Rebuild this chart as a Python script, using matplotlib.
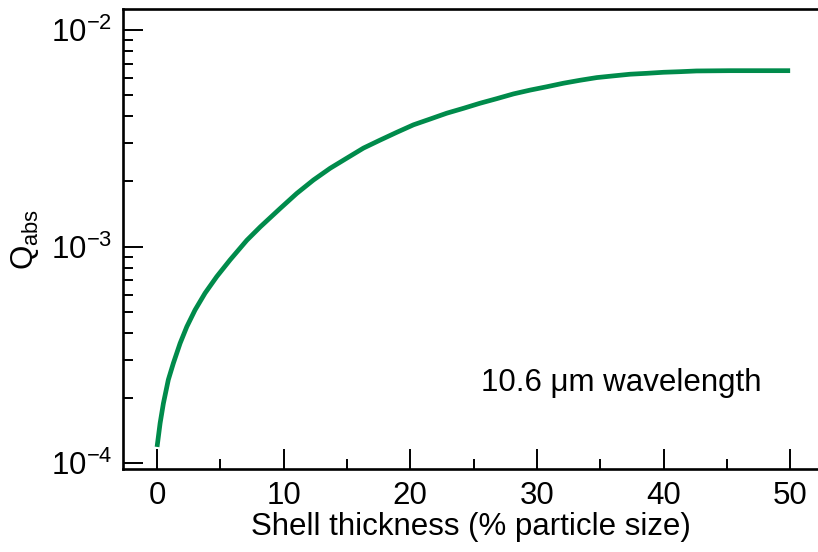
import matplotlib
matplotlib.use("Agg")
import matplotlib.pyplot as plt
from matplotlib.ticker import LogLocator, MultipleLocator, NullFormatter

plt.rcParams['font.family'] = ['Liberation Sans', 'DejaVu Sans']
plt.rcParams['mathtext.fontset'] = 'custom'
plt.rcParams['mathtext.rm'] = 'Liberation Sans'
plt.rcParams['mathtext.it'] = 'Liberation Sans:italic'
plt.rcParams['mathtext.bf'] = 'Liberation Sans:bold'

# Absorption efficiency vs. shell thickness at 10.6 um
shell_thickness = [0, 0.24, 0.50, 0.89, 1.29, 1.82, 2.35, 3.0, 3.79, 4.72,
                   5.77, 7.09, 8.16, 9.72, 11.03, 12.35, 13.67, 14.98, 16.3,
                   17.6, 18.93, 20.25, 21.56, 22.88, 24.2, 25.5, 26.83, 28.15,
                   29.47, 30.78, 32.1, 33.4, 34.73, 36.04, 37.36, 38.68, 40.0,
                   41.3, 42.6, 45.26, 47.6, 50.0]
q_abs = [1.19e-4, 1.53e-4, 1.89e-4, 2.43e-4, 2.90e-4, 3.58e-4, 4.27e-4,
         5.10e-4, 6.10e-4, 7.28e-4, 8.69e-4, 1.07e-3, 1.235e-3, 1.50e-3,
         1.76e-3, 2.03e-3, 2.30e-3, 2.56e-3, 2.85e-3, 3.10e-3, 3.37e-3,
         3.65e-3, 3.88e-3, 4.13e-3, 4.35e-3, 4.59e-3, 4.82e-3, 5.07e-3,
         5.28e-3, 5.47e-3, 5.68e-3, 5.86e-3, 6.03e-3, 6.14e-3, 6.25e-3,
         6.31e-3, 6.38e-3, 6.42e-3, 6.47e-3, 6.49e-3, 6.49e-3, 6.49e-3]

x_ticks = [0, 10, 20, 30, 40, 50]

fig = plt.figure(figsize=(8.18, 5.52), dpi=100)
ax = fig.add_axes([123 / 818, 1 - 469 / 552, 1 - 123 / 818, (469 - 9.3) / 552])

ax.plot(shell_thickness, q_abs, color='#008b4b', lw=3.4,
        solid_capstyle='butt', solid_joinstyle='round')

ax.set_yscale('log')
ax.set_xlim(-2.69, 52.2)
ax.set_ylim(9.41e-5, 1.246e-2)

ax.set_xticks(x_ticks)
ax.xaxis.set_minor_locator(MultipleLocator(5))
ax.yaxis.set_major_locator(LogLocator(base=10, numticks=10))
ax.yaxis.set_minor_locator(LogLocator(base=10, subs=range(2, 10), numticks=10))
ax.yaxis.set_minor_formatter(NullFormatter())

for side in ('left', 'bottom', 'top'):
    ax.spines[side].set_linewidth(1.9)
ax.spines['right'].set_visible(False)

ax.tick_params(which='major', direction='in', length=14.4, width=1.4,
               labelsize=22.5)
ax.tick_params(axis='x', which='major', pad=9)
ax.tick_params(axis='y', which='major', pad=8)
ax.tick_params(which='minor', direction='in', length=7.2, width=1.4)
ax.tick_params(axis='y', which='both', right=False)
ax.tick_params(axis='x', which='both', top=False)

ax.set_xlabel('Shell thickness (% particle size)', fontsize=22.5, labelpad=0)
ax.set_ylabel(r'Q$_{\mathrm{abs}}$', fontsize=22.5, labelpad=7)

ax.text(25.6, 2.35e-4, '10.6 μm wavelength', fontsize=22.5, ha='left', va='center')

fig.savefig('out.png', dpi=100)
